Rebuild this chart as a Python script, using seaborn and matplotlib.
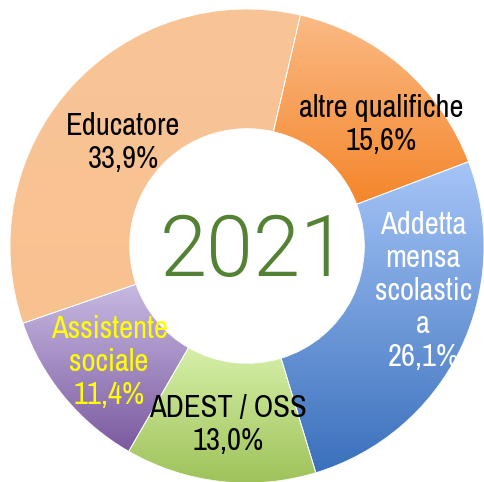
import numpy as np
import matplotlib
matplotlib.use("Agg")
import matplotlib.pyplot as plt
import seaborn as sns

# ---- data ----
categories = ["altre qualifiche", "Addetta\nmensa\nscolastic\na", "ADEST / OSS",
              "Assistente\nsociale", "Educatore"]
values = [15.6, 26.1, 13.0, 11.4, 33.9]
top_colors = ["#FBBA86", "#A6C5F7", "#D6F0A8", "#C8BAE3", "#F9C597"]
bottom_colors = ["#F4862A", "#3A70BC", "#9FC25A", "#7B5A9F", "#F8C190"]
label_colors = ["black", "white", "black", "#FFFF00", "black"]
center_label = "2021"

# label anchor positions (data coords, radius 1 = outer edge)
label_pos = [(0.565, 0.512), (0.743, -0.190), (-0.080, -0.755),
             (-0.582, -0.490), (-0.523, 0.436)]

sns.set_theme(style="white")
plt.rcParams['font.family'] = ['Archivo Narrow', 'PT Sans Narrow', 'Liberation Sans', 'DejaVu Sans']

fig = plt.figure(figsize=(4.85, 4.82), dpi=100)
ax = fig.add_axes([0, 0, 1, 1])
wedges, _ = ax.pie(values, startangle=77, counterclock=False, radius=1,
                   wedgeprops=dict(width=0.505, edgecolor="white", linewidth=0.6,
                                   facecolor="none"))

for w, c0, c1 in zip(wedges, top_colors, bottom_colors):
    ext = w.get_path().get_extents()
    a = np.array(matplotlib.colors.to_rgb(c0))
    b = np.array(matplotlib.colors.to_rgb(c1))
    t = np.linspace(0, 1, 256)[:, None]
    grad = (a[None, :] * (1 - t) + b[None, :] * t)[:, None, :]
    grad = np.repeat(grad, 2, axis=1)
    im = ax.imshow(grad, extent=[ext.x0, ext.x1, ext.y0, ext.y1], origin="upper",
                   aspect="auto", zorder=0.5, interpolation="bilinear")
    im.set_clip_path(w)

for cat, v, (x, y), col in zip(categories, values, label_pos, label_colors):
    txt = f"{cat}\n{v:.1f}%".replace(".", ",")
    ax.text(x, y, txt, ha="center", va="center", fontsize=22, color=col,
            linespacing=1.22, zorder=3)

ax.text(0.030, -0.030, center_label, ha="center", va="center", fontsize=61,
        color="#548235", family=["Roboto", "DejaVu Sans"], fontweight=300, zorder=3)

ax.set_xlim(-1.042, 1.004)
ax.set_ylim(-0.996, 1.038)
ax.set_aspect("equal", adjustable="datalim")
ax.axis("off")
fig.savefig("out.png", dpi=100, facecolor="white")
